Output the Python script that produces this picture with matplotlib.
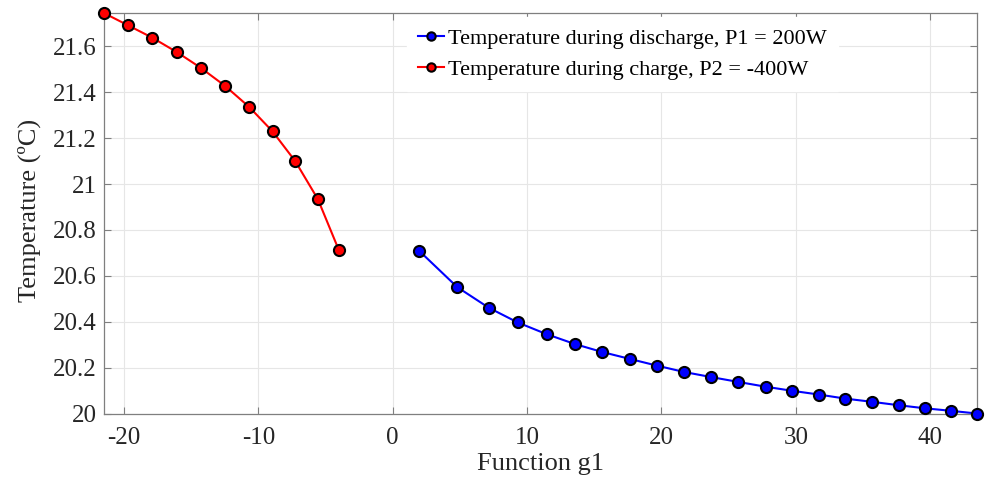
import numpy as np
import matplotlib
matplotlib.use("Agg")
import matplotlib.pyplot as plt

# discharge series (P1 = 200W)
g1_discharge = [1.95, 4.8, 7.15, 9.3, 11.45, 13.55, 15.6, 17.65, 19.65, 21.7,
                23.7, 25.7, 27.75, 29.75, 31.7, 33.7, 35.7, 37.7, 39.6, 41.55, 43.5]
temp_discharge = [20.710, 20.551, 20.461, 20.397, 20.346, 20.303, 20.268, 20.238,
                  20.209, 20.181, 20.159, 20.138, 20.117, 20.099, 20.083, 20.065,
                  20.051, 20.036, 20.023, 20.012, 20.0]

# charge series (P2 = -400W)
g1_charge = [-21.5, -19.72, -17.88, -16.05, -14.28, -12.47, -10.67, -8.94, -7.26, -5.57, -4.0]
temp_charge = [21.745, 21.692, 21.637, 21.574, 21.506, 21.427, 21.335, 21.229,
               21.100, 20.934, 20.711]

labels = ["Temperature during discharge, P1 = 200W",
          "Temperature during charge, P2 = -400W"]

plt.rcParams["font.family"] = ["Liberation Serif", "DejaVu Serif"]
plt.rcParams["axes.unicode_minus"] = False

fig = plt.figure(figsize=(9.89, 4.82), dpi=100)
ax = fig.add_axes([0.105, 0.142, 0.883, 0.831])

mk = dict(marker="o", markersize=8, markeredgecolor="black", markeredgewidth=1.5,
          linewidth=1.5, clip_on=False, zorder=3)
ax.plot(g1_discharge, temp_discharge, color="blue", markerfacecolor="blue", label=labels[0], **mk)
ax.plot(g1_charge, temp_charge, color="red", markerfacecolor="red", label=labels[1], **mk)

ax.set_xlim(-21.5, 43.5)
ax.set_ylim(20, 21.745)
ax.set_xticks(np.arange(-20, 41, 10))
ax.set_yticks(np.arange(20, 21.61, 0.2))
ax.set_yticklabels(["20", "20.2", "20.4", "20.6", "20.8", "21", "21.2", "21.4", "21.6"])

ax.grid(True, color="#e6e6e6", linewidth=0.8)
ax.set_axisbelow(True)
ax.tick_params(direction="in", top=True, right=True, length=5, colors="#7f7f7f",
               labelcolor="#262626", labelsize=18)
ax.tick_params(axis="x", pad=10)
ax.tick_params(axis="y", pad=5)
for s in ax.spines.values():
    s.set_color("#7f7f7f")
    s.set_linewidth(0.9)

ax.set_xlabel("Function g1", fontsize=19, color="#262626")
ax.set_ylabel("Temperature (ºC)", fontsize=19, color="#262626")
ax.xaxis.set_label_coords(0.5, -0.098)
ax.yaxis.set_label_coords(-0.072, 0.508)

leg = ax.legend(loc="upper left", bbox_to_anchor=(0.334, 1.0175), frameon=True,
                fontsize=16, handlelength=1.2, handletextpad=0.17, borderpad=0.5,
                labelspacing=0.48, fancybox=False, edgecolor="white", framealpha=1,
                markerscale=0.75)
leg.set_zorder(5)

fig.savefig("out.png", dpi=100)
